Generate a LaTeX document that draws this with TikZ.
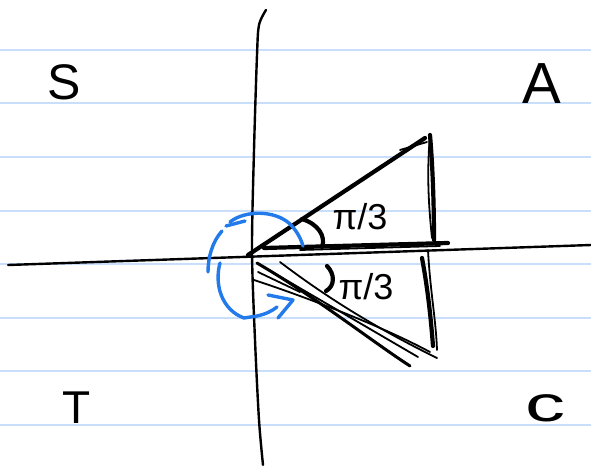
\documentclass[tikz,border=0pt]{standalone}
\usepackage{fontspec}
\setmainfont{Liberation Sans}
\begin{document}
\begin{tikzpicture}[x=1pt,y=-1pt,
  rule/.style={draw=ruleblue,line width=2pt},
  axis/.style={draw=black,line width=2.4pt,line cap=round,line join=round},
  pen/.style={draw=black,line width=4.2pt,line cap=round,line join=round},
  thin/.style={draw=black,line width=1.8pt,line cap=round},
  bluepen/.style={draw=inkblue,line width=3.4pt,line cap=round,line join=round},
  ang/.style={font=\fontsize{36}{38}\selectfont}]
\definecolor{ruleblue}{RGB}{200,222,250}
\definecolor{inkblue}{RGB}{35,122,235}
\useasboundingbox (0,0) rectangle (591,468);
\fill[white] (0,0) rectangle (591,468);
% ruled lines
\foreach \yy in {50,103.5,157,210.5,264,317.5,371,424.5}
  \draw[rule] (0,\yy) -- (591,\yy);
% axes
\draw[axis] plot[smooth] coordinates {(266,10) (259,25) (257,55) (254,150) (252,250) (255,340) (259,420) (263,465)};
\draw[axis] (8,265) -- (591,245);
% upper ray
\draw[pen] (248,255) -- (425,138);
\draw[thin] (400,150) -- (427,142);
% upper vertical
\draw[pen] (430,135) .. controls (433,170) and (434,210) .. (434,240);
\draw[thin] (430,135) .. controls (427,170) and (428,200) .. (432,238);
% thick horizontal
\draw[pen] (264,248) -- (448,243);
\draw[thin] (300,250) -- (440,246);
% lower vertical
\draw[pen] (422,258) .. controls (428,290) and (431,320) .. (433,346);
\draw[thin] (428,250) .. controls (430,290) and (436,320) .. (437,350);
% lower rays
\draw[draw=black,line width=3pt,line cap=round] (257,263) .. controls (320,300) and (370,340) .. (410,366);
\draw[thin] (262,266) -- (418,357);
\draw[thin] (280,262) .. controls (330,300) and (380,330) .. (437,358);
\draw[thin] (254,280) .. controls (300,295) and (380,325) .. (430,352);
\draw[thin] (258,272) -- (300,292);
% angle arcs
\draw[pen] (302,219) .. controls (318,224) and (326,236) .. (322,247);
\draw[pen] (327,266) .. controls (335,274) and (335,286) .. (326,291);
\node[ang] (a1) at (360,217) {π/3};
\node[ang] (a2) at (366,287) {π/3};
% blue rotation arrow
\draw[bluepen] (226,226) -- (245,221);
\draw[bluepen] (230,222) .. controls (245,210) and (275,210) .. (290,224) .. controls (297,231) and (301,239) .. (303,246);
\draw[bluepen] (222,231) .. controls (212,242) and (208,258) .. (208,272);
\draw[bluepen] (220,263) .. controls (214,285) and (222,310) .. (244,318) -- (257,316) .. controls (266,314) and (272,311) .. (277,307);
\draw[bluepen] (268,295) -- (293,300) -- (278,318);
% quadrant letters
\node[font=\fontsize{50}{52}\selectfont] (s) at (64,82) {S};
\node[font=\fontsize{58}{60}\selectfont] (a) at (542,84) {A};
\node[font=\fontsize{46}{48}\selectfont] (t) at (77,408) {T};
\node[font=\fontsize{50}{52}\selectfont,xscale=1.6] (c) at (545,408) {c};
\end{tikzpicture}
\end{document}
